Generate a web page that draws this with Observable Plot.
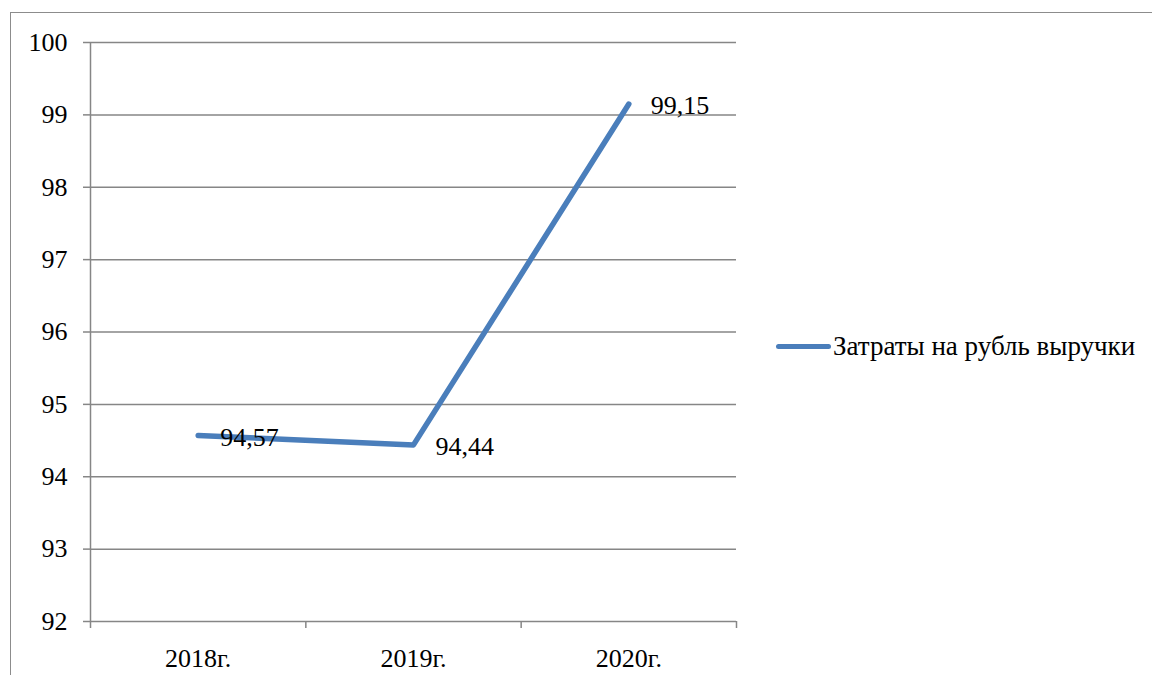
<!DOCTYPE html>
<html>
<head>
<meta charset="utf-8">
<script src="https://cdn.jsdelivr.net/npm/d3@7"></script>
<script src="https://cdn.jsdelivr.net/npm/@observablehq/plot@0.6"></script>
<style>
  html, body { margin: 0; padding: 0; background: #fff; font-family: "Liberation Serif", serif; }
  #wrap { position: relative; width: 1152px; height: 675px; }
  #frame { position: absolute; left: 10px; top: 12px; width: 1142px; height: 663px; border-left: 1px solid #8c8c8c; border-top: 1px solid #8c8c8c; box-sizing: border-box; pointer-events: none; }
  #chart { position: absolute; left: 0; top: 0; }
  #legend { position: absolute; left: 776px; top: 331px; display: flex; align-items: center; font-size: 27px; color: #000; white-space: nowrap; font-family: "Liberation Serif", serif; }
  #legend .swatch { width: 55px; height: 5px; border-radius: 3px; background: #4a7ebb; margin-right: 2px; }
</style>
</head>
<body>
<div id="wrap">
  <div id="frame"></div>
  <div id="chart"></div>
  <div id="legend"><div class="swatch"></div><span id="legend-label"></span></div>
</div>
<script>
// Cost per rouble of revenue, by year
const years = ["2018г.", "2019г.", "2020г."];
const values = [94.57, 94.44, 99.15];
const seriesName = "Затраты на рубль выручки";
const yTicks = [92, 93, 94, 95, 96, 97, 98, 99, 100];

const lineColor = "#4a7ebb";
const gridColor = "#868686";

// each category sits in the middle of its slot; slot edges carry the tick marks
const rows = years.map((year, i) => ({ year, pos: i + 0.5, value: values[i] }));
const slotEdges = d3.range(years.length + 1);
const fmt = v => v.toFixed(2).replace(".", ",");

const chart = Plot.plot({
  width: 1152,
  height: 675,
  marginLeft: 90,
  marginTop: 42,
  marginBottom: 54,
  marginRight: 416,
  style: { fontFamily: "serif", fontSize: "26px" },
  x: { type: "linear", domain: [0, years.length] },
  y: { domain: [92, 100] },
  marks: [
    // horizontal gridlines
    Plot.ruleY(yTicks, { stroke: gridColor, strokeWidth: 1.5 }),
    // vertical axis line
    Plot.ruleX([0], { stroke: gridColor, strokeWidth: 1.5 }),
    // y ticks and labels
    Plot.axisY({ ticks: yTicks, tickSize: 7, tickPadding: 16, stroke: gridColor, strokeWidth: 1.5, label: null, fontSize: 26, tickFormat: d => String(d) }),
    // tick marks at slot edges on the x axis
    Plot.axisX({ ticks: slotEdges, tickSize: 7, stroke: gridColor, strokeWidth: 1.5, tickFormat: () => "", label: null }),
    // category labels at slot centres
    Plot.axisX({ ticks: rows.map(d => d.pos), tickSize: 0, tickPadding: 27, tickFormat: (d, i) => years[i], label: null, fontSize: 26 }),
    // the series line
    Plot.line(rows, { x: "pos", y: "value", stroke: lineColor, strokeWidth: 5.5, strokeLinecap: "round", strokeLinejoin: "round" }),
    // value labels
    Plot.text(rows, { x: "pos", y: "value", text: d => fmt(d.value), textAnchor: "start", dx: 22, dy: 2, fontSize: 26, fill: "#000" })
  ]
});

document.getElementById("chart").appendChild(chart);
document.getElementById("legend-label").textContent = seriesName;
</script>
</body>
</html>
